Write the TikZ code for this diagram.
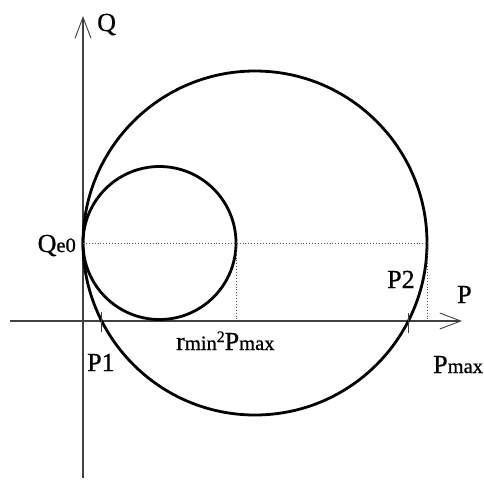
\documentclass[tikz,border=0pt]{standalone}
\usepackage{fontspec}
\setmainfont{Liberation Serif}
\newfontfamily\scanfont{Liberation Serif}[FakeBold=0.8]
\usetikzlibrary{arrows.meta,calc}

\newcommand{\lowtxt}[1]{{\fontsize{20.5}{20.5}\selectfont #1}}
\newcommand{\hightxt}[1]{\raisebox{8pt}{\fontsize{16}{16}\selectfont #1}}

\begin{document}
\begin{tikzpicture}[x=1pt, y=-1pt,
    axis/.style={draw=black!75, line width=1.1pt,
                 -{Straight Barb[length=21pt, width=16pt, line width=0.9pt]}},
    circ/.style={draw=black, line width=2.8pt},
    guide/.style={draw=black!70, line width=0.9pt, dotted},
    tickmark/.style={draw=black!75, line width=0.9pt},
    lbl/.style={font=\scanfont\fontsize{26}{26}\selectfont, inner sep=0pt, anchor=base west}
]
  \useasboundingbox (0,0) rectangle (484,480);
  % Axes
  \coordinate (qbot) at (83,478);
  \coordinate (qtop) at (83,16);
  \coordinate (pleft) at (10,321);
  \coordinate (pright) at (462,321);
  \draw[axis] (qbot) -- (qtop);
  \draw[axis] (pleft) -- (pright);
  % Circles
  \coordinate (cbig) at (255,243);
  \coordinate (csmall) at (159.5,243);
  \draw[circ] (cbig) circle[radius=172pt];
  \draw[circ] (csmall) circle[radius=76.5pt];
  % Dotted guides
  \coordinate (qe) at (83,243);
  \coordinate (smallr) at (236,243);
  \coordinate (bigr) at (427,243);
  \draw[guide] (qe) -- (bigr);
  \draw[guide] (smallr) -- (smallr |- pleft);
  \draw[guide] (bigr) -- (bigr |- pleft);
  % Crossing points on P axis
  \coordinate (p1) at (101.7,321);
  \coordinate (p2) at (408.3,321);
  \draw[tickmark] ($(p1)+(0,-9)$) -- ($(p1)+(0,11)$);
  \draw[tickmark] ($(p2)+(0,-8)$) -- ($(p2)+(0,12)$);
  % Labels
  \node[lbl] (lq) at (97,31) {Q};
  \node[lbl, anchor=base east] (lqe) at (76,252) {Q\lowtxt{e0}};
  \node[lbl] (lp2) at (387,288) {P2};
  \node[lbl] (lp) at (457,303) {P};
  \node[lbl] (lr) at (176,350) {r\lowtxt{min}\hightxt{2}P\lowtxt{max}};
  \node[lbl] (lp1) at (87,371) {P1};
  \node[lbl] (lpmax) at (433,373) {P\lowtxt{max}};
\end{tikzpicture}
\end{document}
